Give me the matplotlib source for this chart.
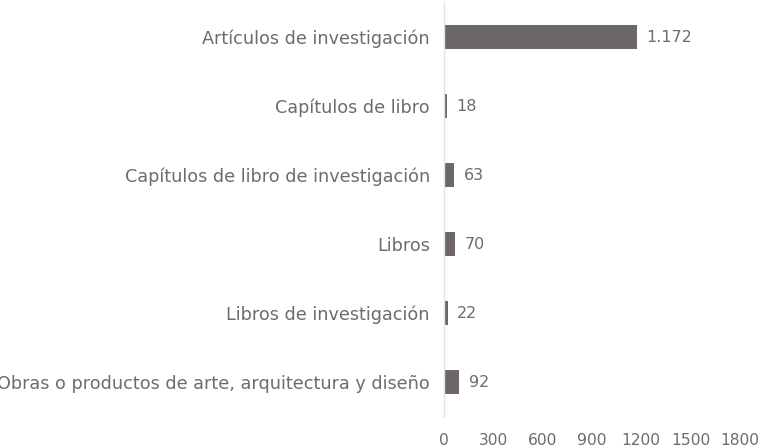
import numpy as np
import matplotlib.pyplot as plt

plt.rcParams["font.family"] = "DejaVu Sans"
plt.rcParams.update({'font.size': 12})

categorias = ['Artículos de investigación',
              'Capítulos de libro',
              'Capítulos de libro de investigación',
              'Libros',
              'Libros de investigación',
              'Obras o productos de arte, arquitectura y diseño']
valores = [1172, 18, 63, 70, 22, 92]
ticks = [0, 300, 600, 900, 1200, 1500, 1800]

barColor = '#6e6767'
textColor = '#706b6b'

fig = plt.figure(figsize=(7.64, 4.48), dpi=100)
ax = fig.add_axes([0.581, 0.0703, 0.3875, 0.924])

y = np.arange(len(categorias))
ax.barh(y, valores, height=0.36, color=barColor)

for yi, v in zip(y, valores):
    txt = '{:,}'.format(v).replace(',', '.')
    ax.annotate(txt, (v, yi), xytext=(7, 0), textcoords='offset points',
                va='center', ha='left', color=textColor, fontsize=11.5)

ax.set_yticks(y)
ax.set_yticklabels(categorias, color=textColor, fontsize=12.7)
ax.set_xticks(ticks)
ax.set_xticklabels([str(t) for t in ticks], color=textColor, fontsize=11.2)
ax.set_xlim(0, 1800)
ax.set_ylim(5.5, -0.5)

ax.tick_params(axis='both', length=0)
ax.tick_params(axis='y', pad=10)
ax.tick_params(axis='x', pad=12)
for s in ['top', 'right', 'bottom']:
    ax.spines[s].set_visible(False)
ax.spines['left'].set_color('#e4e2e2')
ax.spines['left'].set_linewidth(1.0)

plt.savefig('out.png', dpi=100)
